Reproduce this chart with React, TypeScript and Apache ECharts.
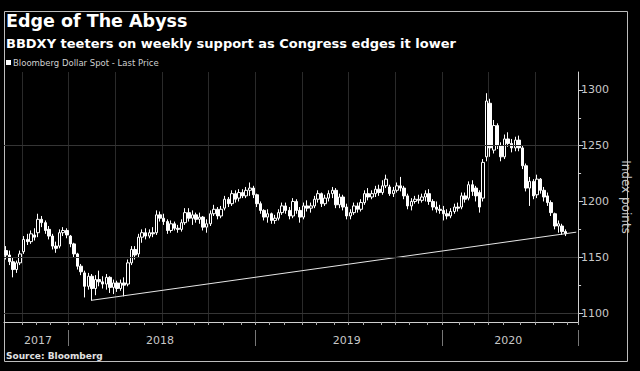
import React, { useEffect, useRef } from 'react';
import * as echarts from 'echarts';

// Weekly categories (Fridays) starting 2017-09-01, plus 3 empty weeks to reach the axis
const firstWeek = '2017-09-01';
const categoryCount = 160;
const categories: string[] = (() => {
  const out: string[] = [];
  const d = new Date(firstWeek + 'T00:00:00Z');
  for (let i = 0; i < categoryCount; i++) {
    out.push(d.toISOString().slice(0, 10));
    d.setUTCDate(d.getUTCDate() + 7);
  }
  return out;
})();

// Weekly OHLC of Bloomberg Dollar Spot
const opens = [
  1156, 1152, 1146, 1139, 1145, 1155, 1166, 1164, 1170, 1172, 1184, 1181, 1175, 1169, 1160, 1160, 1172, 1174, 1169, 1162,
  1153, 1142, 1136, 1124, 1133, 1122, 1130, 1128, 1126, 1132, 1123, 1127, 1122, 1127, 1126, 1145, 1157, 1153, 1168, 1172,
  1169, 1172, 1172, 1188, 1185, 1182, 1174, 1180, 1176, 1175, 1181, 1190, 1185, 1188, 1184, 1186, 1177, 1180, 1189, 1193,
  1187, 1194, 1202, 1198, 1207, 1203, 1208, 1205, 1210, 1212, 1206, 1198, 1192, 1186, 1189, 1183, 1185, 1190, 1196, 1192,
  1187, 1200, 1192, 1186, 1196, 1194, 1196, 1202, 1207, 1198, 1203, 1207, 1210, 1197, 1204, 1195, 1187, 1190, 1196, 1193,
  1199, 1207, 1204, 1207, 1211, 1208, 1214, 1213, 1207, 1210, 1214, 1212, 1205, 1196, 1200, 1202, 1201, 1204, 1207, 1200,
  1195, 1193, 1192, 1189, 1187, 1191, 1195, 1195, 1205, 1203, 1215, 1212, 1208, 1203, 1240, 1288, 1246, 1268, 1250, 1240,
  1256, 1252, 1248, 1255, 1248, 1232, 1212, 1218, 1206, 1220, 1210, 1205, 1199, 1189, 1178, 1178, 1173,
];
const closes = [
  1152, 1146, 1139, 1145, 1153, 1166, 1164, 1171, 1168, 1184, 1181, 1174, 1169, 1160, 1158, 1172, 1174, 1170, 1162, 1153,
  1142, 1137, 1124, 1133, 1122, 1130, 1128, 1126, 1132, 1123, 1127, 1122, 1127, 1125, 1145, 1157, 1152, 1168, 1172, 1169,
  1172, 1171, 1188, 1185, 1182, 1174, 1180, 1176, 1175, 1181, 1190, 1185, 1188, 1184, 1186, 1177, 1180, 1189, 1193, 1187,
  1193, 1202, 1198, 1207, 1202, 1208, 1205, 1210, 1212, 1206, 1198, 1192, 1186, 1189, 1183, 1185, 1190, 1196, 1192, 1187,
  1200, 1192, 1186, 1196, 1194, 1196, 1202, 1207, 1198, 1203, 1207, 1210, 1197, 1204, 1195, 1187, 1190, 1196, 1193, 1199,
  1207, 1204, 1207, 1211, 1208, 1214, 1220, 1207, 1210, 1214, 1212, 1205, 1196, 1200, 1202, 1201, 1204, 1207, 1200, 1195,
  1193, 1192, 1189, 1187, 1191, 1195, 1194, 1205, 1202, 1215, 1209, 1205, 1195, 1235, 1290, 1248, 1268, 1250, 1240, 1256,
  1252, 1248, 1255, 1248, 1232, 1212, 1218, 1205, 1220, 1210, 1204, 1199, 1190, 1178, 1180, 1173, 1171,
];
const lows = [
  1148, 1143, 1132, 1136, 1143, 1153, 1161, 1162, 1165, 1168, 1177, 1171, 1166, 1157, 1154, 1158, 1169, 1167, 1159, 1150,
  1139, 1134, 1114, 1121, 1111, 1116, 1124, 1122, 1121, 1118, 1117, 1119, 1120, 1115, 1124, 1143, 1148, 1150, 1163, 1166,
  1167, 1168, 1170, 1182, 1179, 1171, 1172, 1174, 1172, 1173, 1179, 1182, 1179, 1181, 1180, 1174, 1172, 1178, 1187, 1184,
  1185, 1192, 1195, 1196, 1199, 1200, 1203, 1203, 1205, 1203, 1195, 1189, 1183, 1181, 1180, 1180, 1183, 1188, 1189, 1184,
  1185, 1189, 1181, 1184, 1191, 1190, 1194, 1199, 1195, 1196, 1200, 1203, 1194, 1194, 1192, 1184, 1184, 1188, 1190, 1191,
  1197, 1201, 1202, 1204, 1205, 1206, 1212, 1205, 1204, 1208, 1209, 1202, 1193, 1192, 1198, 1198, 1199, 1200, 1197, 1192,
  1190, 1189, 1183, 1184, 1185, 1189, 1191, 1193, 1199, 1201, 1205, 1200, 1190, 1200, 1236, 1240, 1243, 1247, 1236, 1238,
  1249, 1244, 1245, 1245, 1229, 1209, 1196, 1202, 1203, 1207, 1200, 1196, 1187, 1175, 1172, 1170, 1169,
];
const highs = [
  1160, 1156, 1150, 1147, 1156, 1169, 1171, 1174, 1176, 1189, 1187, 1183, 1178, 1171, 1164, 1175, 1177, 1176, 1170, 1163,
  1154, 1144, 1138, 1136, 1135, 1134, 1138, 1133, 1135, 1133, 1130, 1129, 1130, 1132, 1148, 1160, 1160, 1171, 1175, 1176,
  1175, 1177, 1192, 1191, 1189, 1184, 1183, 1182, 1179, 1184, 1194, 1194, 1192, 1190, 1190, 1187, 1184, 1192, 1197, 1195,
  1196, 1205, 1204, 1210, 1210, 1211, 1211, 1213, 1217, 1214, 1207, 1200, 1193, 1193, 1190, 1188, 1193, 1199, 1199, 1195,
  1203, 1202, 1195, 1199, 1201, 1199, 1205, 1210, 1208, 1206, 1210, 1213, 1212, 1207, 1206, 1198, 1193, 1199, 1199, 1202,
  1210, 1212, 1210, 1214, 1215, 1219, 1224, 1215, 1213, 1217, 1222, 1214, 1207, 1203, 1205, 1206, 1207, 1210, 1211, 1202,
  1200, 1197, 1196, 1193, 1194, 1198, 1199, 1208, 1208, 1218, 1219, 1214, 1210, 1238, 1297, 1292, 1273, 1270, 1253, 1260,
  1262, 1256, 1258, 1259, 1250, 1234, 1222, 1220, 1224, 1221, 1213, 1208, 1201, 1190, 1183, 1180, 1175,
];

// Support trend line (category index, value)
const trendStart = [24, 1111.5];
const trendEnd = [159, 1172.5];

// Axis values
const yMin = 1092;
const yMax = 1316;
const majorTicks = [1100, 1150, 1200, 1250, 1300];
const minorTicks = [1125, 1175, 1225, 1275];
const gridValues = [1100, 1150, 1250];
const yearLabelIdx = [9, 43, 95, 140];

const FONT = '"DejaVu Sans", sans-serif';

const monthOf = (i: number) => categories[i].slice(0, 7);
const isMonthStart = (i: number) => i > 0 && monthOf(i) !== monthOf(i - 1);
const isQuarterStart = (i: number) =>
  isMonthStart(i) && [0, 3, 6, 9].includes(Number(categories[i].slice(5, 7)) - 1);
const isYearStart = (i: number) => i > 0 && categories[i].slice(0, 4) !== categories[i - 1].slice(0, 4);

export default function App() {
  const ref = useRef<HTMLDivElement>(null);
  useEffect(() => {
    document.body.style.margin = '0';
    document.body.style.background = '#000';
    const chart = echarts.init(ref.current!, null, { renderer: 'svg' });
    const ohlc = opens.map((o, i) => [o, closes[i], lows[i], highs[i]]);
    chart.setOption({
      backgroundColor: '#000',
      animation: false,
      grid: { left: 4, right: 57, top: 72, bottom: 49 },
      xAxis: [
        {
          type: 'category',
          data: categories,
          boundaryGap: true,
          axisLine: { show: true, lineStyle: { color: '#d0d0d0', width: 1 } },
          axisTick: { show: true, interval: (i: number) => isMonthStart(i), length: 3, lineStyle: { color: '#aaa' } },
          axisLabel: { show: false },
          splitLine: { show: true, interval: (i: number) => isQuarterStart(i), lineStyle: { color: '#2a2a2a', width: 1 } },
        },
        {
          type: 'category',
          data: categories,
          position: 'bottom',
          offset: 8,
          axisLine: { show: false },
          axisTick: { show: true, interval: (i: number) => isYearStart(i), length: 16, lineStyle: { color: '#777' } },
          axisLabel: {
            show: true,
            interval: (i: number) => yearLabelIdx.includes(i),
            formatter: (v: string) => v.slice(0, 4),
            color: '#c8c8c8',
            fontSize: 11,
            fontFamily: FONT,
            margin: 5,
          },
          splitLine: { show: false },
        },
      ],
      yAxis: [
        {
          type: 'value',
          position: 'right',
          min: yMin,
          max: yMax,
          axisLine: { show: true, lineStyle: { color: '#d0d0d0' } },
          axisTick: { show: true, customValues: majorTicks, length: 5, lineStyle: { color: '#d0d0d0' } },
          axisLabel: {
            customValues: majorTicks,
            color: '#c8c8c8',
            fontSize: 11,
            fontFamily: FONT,
            margin: 3,
            formatter: (v: number) => (v % 50 === 0 ? String(v) : ''),
          },
          splitLine: { show: false },
          name: 'Index points',
          nameLocation: 'middle',
          nameRotate: -90,
          nameGap: 35,
          nameTextStyle: { color: '#c8c8c8', fontSize: 12, fontFamily: FONT },
        },
        {
          type: 'value',
          position: 'right',
          min: yMin,
          max: yMax,
          axisLine: { show: false },
          axisTick: { show: true, customValues: minorTicks, length: 3, lineStyle: { color: '#d0d0d0' } },
          axisLabel: { show: false },
          splitLine: { show: false },
        },
      ],
      series: [
        {
          type: 'line',
          data: [],
          z: 1,
          silent: true,
          markLine: {
            silent: true,
            symbol: ['none', 'none'],
            label: { show: false },
            lineStyle: { color: '#353535', type: 'solid', width: 1 },
            data: gridValues.map((v) => ({ yAxis: v })),
          },
        },
        {
          type: 'candlestick',
          data: ohlc,
          barWidth: 3,
          z: 3,
          itemStyle: { color: '#000', color0: '#fff', borderColor: '#fff', borderColor0: '#fff', borderWidth: 1 },
        },
        {
          type: 'line',
          data: [trendStart, trendEnd],
          symbol: 'none',
          z: 4,
          silent: true,
          lineStyle: { color: '#e6e6e6', width: 1 },
        },
      ],
      graphic: [
        { type: 'rect', shape: { x: 4.5, y: 11.5, width: 623, height: 350 }, style: { fill: 'none', stroke: '#bdbdbd', lineWidth: 1 } },
        { type: 'text', x: 6, y: 21, style: { text: 'Edge of The Abyss', fill: '#fff', fontSize: 17.5, fontWeight: 'bold', fontFamily: FONT, verticalAlign: 'middle' } },
        { type: 'text', x: 6, y: 43, style: { text: 'BBDXY teeters on weekly support as Congress edges it lower', fill: '#fff', fontSize: 13, fontWeight: 'bold', fontFamily: FONT, verticalAlign: 'middle' } },
        { type: 'rect', shape: { x: 6, y: 60, width: 5, height: 5 }, style: { fill: '#fff' } },
        { type: 'text', x: 13, y: 63, style: { text: 'Bloomberg Dollar Spot - Last Price', fill: '#cfcfcf', fontSize: 8.5, fontFamily: FONT, verticalAlign: 'middle' } },
        { type: 'text', x: 6, y: 356, style: { text: 'Source: Bloomberg', fill: '#e0e0e0', fontSize: 9, fontWeight: 'bold', fontFamily: FONT, verticalAlign: 'middle' } },
      ],
    });
    return () => chart.dispose();
  }, []);
  return <div ref={ref} style={{ width: 640, height: 371, background: '#000' }} />;
}
